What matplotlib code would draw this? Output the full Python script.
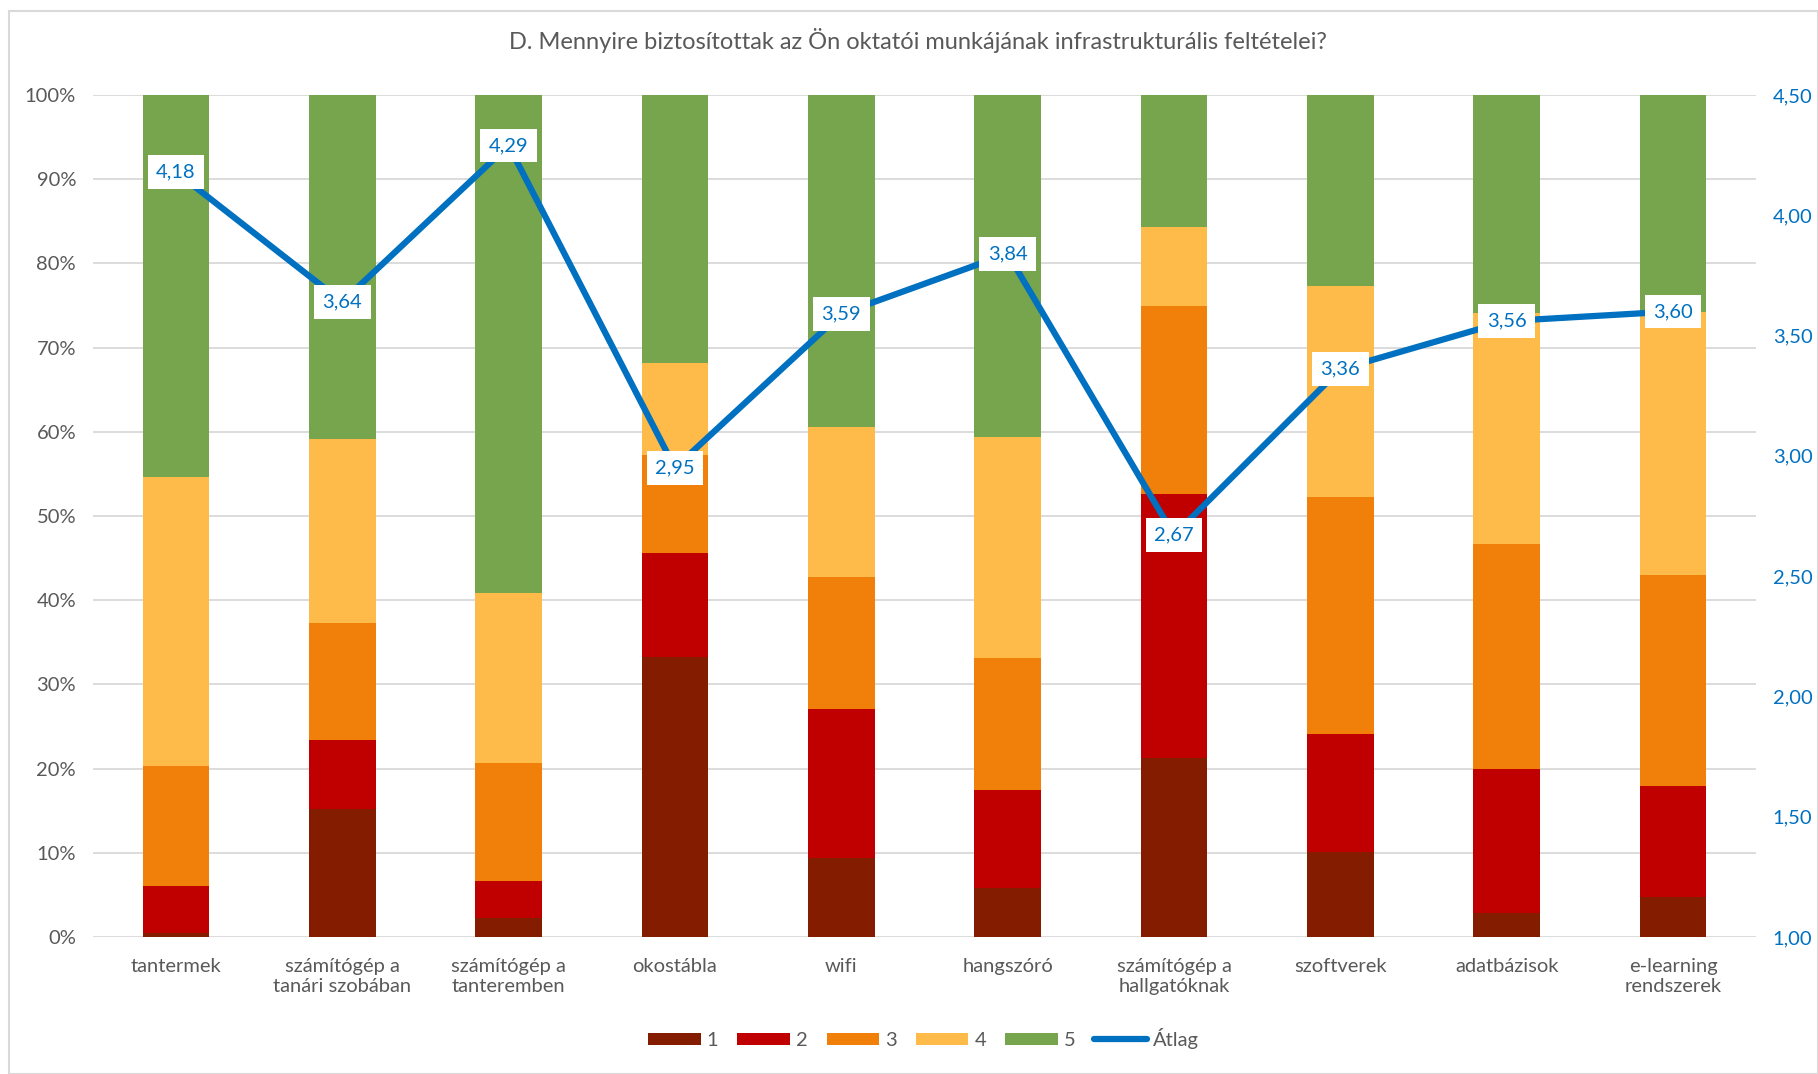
import matplotlib.pyplot as plt
import numpy as np
from matplotlib.ticker import FuncFormatter

plt.rcParams['font.family'] = ['Lato', 'DejaVu Sans']

categories = ["tantermek", "számítógép a\ntanári szobában", "számítógép a\ntanteremben",
              "okostábla", "wifi", "hangszóró", "számítógép a\nhallgatóknak",
              "szoftverek", "adatbázisok", "e-learning\nrendszerek"]

# shares of answers (%)
s1 = [0.5, 15.2, 2.3, 33.2, 9.4, 5.8, 21.2, 10.1, 2.9, 4.7]
s2 = [5.6, 8.2, 4.4, 12.4, 17.7, 11.7, 31.4, 14.0, 17.1, 13.2]
s3 = [14.2, 13.9, 14.0, 11.6, 15.7, 15.6, 22.3, 28.2, 26.7, 25.1]
s4 = [34.3, 21.8, 20.1, 11.0, 17.8, 26.3, 9.4, 25.0, 27.4, 31.2]
s5 = [45.4, 40.9, 59.2, 31.8, 39.4, 40.6, 15.7, 22.7, 25.9, 25.8]
atlag = [4.18, 3.64, 4.29, 2.95, 3.59, 3.84, 2.67, 3.36, 3.56, 3.60]

series = [s1, s2, s3, s4, s5]
labels = ["1", "2", "3", "4", "5"]
colors = ["#841C00", "#C00000", "#F0800A", "#FFBB4A", "#76A54E"]

GRAY = "#595959"
BLUE = "#0070C0"
FS = 14.5

fig = plt.figure(figsize=(18.18, 10.74), dpi=100)
ax = fig.add_axes([0.051, 0.1276, 0.915, 0.784])

x = np.arange(len(categories))
bottom = np.zeros(len(categories))
handles = []
for vals, lab, col in zip(series, labels, colors):
    b = ax.bar(x, vals, 0.4, bottom=bottom, color=col, label=lab, zorder=2)
    handles.append(b)
    bottom += np.array(vals)

ax.set_xlim(-0.5, len(categories) - 0.5)
ax.set_ylim(0, 100)
ax.set_yticks(np.arange(0, 101, 10))
ax.yaxis.set_major_formatter(FuncFormatter(lambda v, p: f"{int(v)}%"))
ax.grid(axis="y", color="#D9D9D9", linewidth=1.3, zorder=0)
ax.set_axisbelow(True)
ax.set_xticks(x)
ax.set_xticklabels(categories, fontsize=FS, color=GRAY, linespacing=1.25)
ax.tick_params(axis="both", length=0, labelsize=FS, labelcolor=GRAY)
ax.tick_params(axis="x", pad=15)
ax.tick_params(axis="y", pad=12)
for sp in ax.spines.values():
    sp.set_visible(False)

ax2 = ax.twinx()
ax2.set_ylim(1, 4.5)
ax2.set_yticks(np.arange(1, 4.51, 0.5))
ax2.yaxis.set_major_formatter(FuncFormatter(lambda v, p: f"{v:.2f}".replace(".", ",")))
ax2.tick_params(axis="y", length=0, labelsize=FS, labelcolor=BLUE, pad=12)
for sp in ax2.spines.values():
    sp.set_visible(False)
line, = ax2.plot(x, atlag, color=BLUE, linewidth=4.5, solid_capstyle="round", zorder=3, label="Átlag")
for xi, v in zip(x, atlag):
    ax2.text(xi, v, f"{v:.2f}".replace(".", ","), ha="center", va="center", fontsize=FS,
             color=BLUE, zorder=4,
             bbox=dict(boxstyle="square,pad=0.42", facecolor="white", edgecolor="none"))

fig.text(0.505, 0.962, "D. Mennyire biztosítottak az Ön oktatói munkájának infrastrukturális feltételei?",
         ha="center", va="center", fontsize=17, color=GRAY)

fig.legend(handles + [line], labels + ["Átlag"], loc="center", bbox_to_anchor=(0.508, 0.033),
           ncol=6, frameon=False, fontsize=FS, labelcolor=GRAY, handlelength=2.6,
           handleheight=0.6, columnspacing=0.95, handletextpad=0.3)

border = plt.Rectangle((0.005, 0.0), 0.995, 0.99, transform=fig.transFigure, fill=False,
                       edgecolor="#D9D9D9", linewidth=1.5)
fig.patches.append(border)

fig.savefig("out.png", dpi=100)
